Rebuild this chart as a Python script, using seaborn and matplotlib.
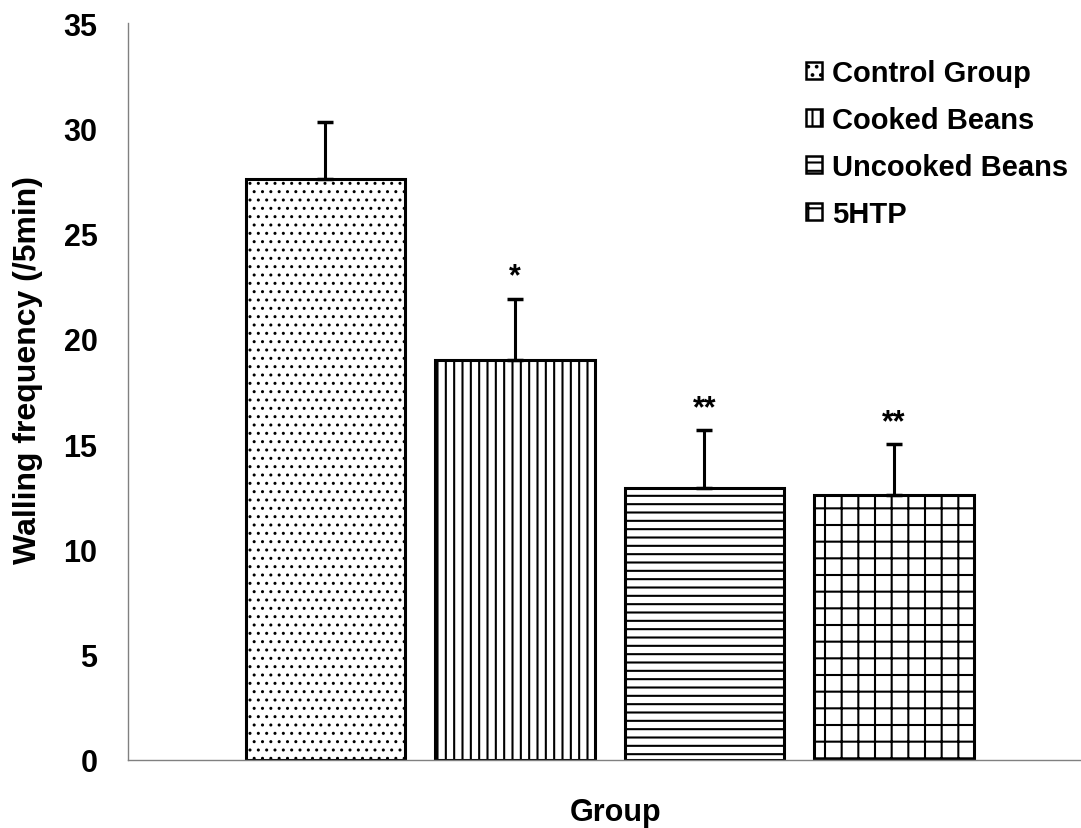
import matplotlib
matplotlib.use("Agg")
import matplotlib.pyplot as plt
from matplotlib.patches import Patch
import seaborn as sns
import pandas as pd

groups = ["Control Group", "Cooked Beans", "Uncooked Beans", "5HTP"]
means = [27.6, 19.0, 12.9, 12.6]
errors = [2.7, 2.9, 2.75, 2.4]
stars = ["", "*", "**", "**"]
hatches = ["..", "||", "--", "+"]

sns.set_style("white")
plt.rcParams["font.family"] = ["Liberation Sans", "DejaVu Sans"]
plt.rcParams["font.weight"] = "bold"
plt.rcParams["hatch.linewidth"] = 1.5
plt.rcParams["hatch.color"] = "black"
plt.rcParams["text.color"] = "black"
plt.rcParams["ytick.labelcolor"] = "black"
plt.rcParams["axes.labelcolor"] = "black"

df = pd.DataFrame({"group": groups, "mean": means})

fig = plt.figure(figsize=(10.81, 8.29), dpi=100)
ax = fig.add_axes([128 / 1081, 1 - 761 / 829, (1081 - 128) / 1081, (761 - 24) / 829])

sns.barplot(data=df, x="group", y="mean", hue="group", palette=["white"] * 4,
            dodge=False, width=0.84, edgecolor="black", linewidth=2.2,
            errorbar=None, legend=False, ax=ax)

for i, (cont, h) in enumerate(zip(ax.containers, hatches)):
    for p in cont.patches:
        p.set_hatch(h)
        p.set_edgecolor("black")
        if i == 0 and hasattr(p, "set_hatch_linewidth"):
            p.set_hatch_linewidth(1.0)

xs = range(len(groups))
ax.errorbar(list(xs), means, yerr=[[0] * 4, errors], fmt="none", ecolor="black",
            elinewidth=2.2, capsize=6, capthick=2.5, zorder=1)

for x, m, e, s in zip(xs, means, errors, stars):
    if s:
        ax.text(x, m + e + 0.35, s, ha="center", va="bottom", fontsize=22,
                fontweight="bold", color="black")

ax.set_ylim(0, 35)
ax.set_yticks(range(0, 36, 5))
ax.set_xlim(-1.042, 3.987)
ax.set_xticks([-1.042])
ax.set_xticklabels([""])
ax.tick_params(axis="y", direction="out", length=8, width=1, color="#808080",
               labelsize=22, pad=14, labelcolor="black")
ax.tick_params(axis="x", direction="out", length=9, width=1, color="#808080")
for lab in ax.get_yticklabels():
    lab.set_fontweight("bold")

for side in ["top", "right"]:
    ax.spines[side].set_visible(False)
for side in ["left", "bottom"]:
    ax.spines[side].set_color("#808080")
    ax.spines[side].set_linewidth(1)

ax.set_xlabel("")
ax.set_ylabel("")
fig.text(28 / 1081, 1 - 370 / 829, "Walling frequency (/5min)", rotation=90,
         ha="center", va="center", fontsize=23, fontweight="bold", color="black")
fig.text(616 / 1081, 1 - 813 / 829, "Group", ha="center", va="center",
         fontsize=22, fontweight="bold", color="black")

handles = [Patch(facecolor="white", edgecolor="black", hatch=h, linewidth=1.8)
           for h in hatches]
leg = ax.legend(handles, groups, loc="upper left",
                bbox_to_anchor=(806 / 1081, 1 - 60 / 829),
                bbox_transform=fig.transFigure, frameon=False,
                fontsize=21, handlelength=0.55, handleheight=0.55,
                handletextpad=0.35, labelspacing=0.65, borderpad=0,
                borderaxespad=0)
for t in leg.get_texts():
    t.set_fontweight("bold")
    t.set_color("black")

fig.savefig("out.png", dpi=100)
